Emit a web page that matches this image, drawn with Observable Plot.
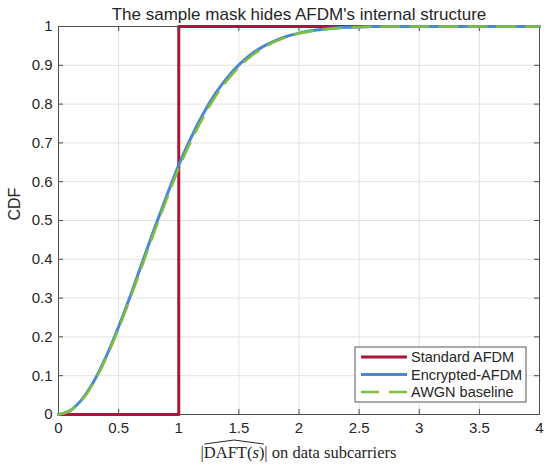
<!DOCTYPE html>
<html><head><meta charset="utf-8">
<script src="https://cdn.jsdelivr.net/npm/d3@7"></script>
<script src="https://cdn.jsdelivr.net/npm/@observablehq/plot@0.6"></script>
<style>body{margin:0;background:#fff}</style>
</head><body><div id="chart"></div>
<script>
const title = "The sample mask hides AFDM's internal structure";
const yLabel = "CDF";
const seriesNames = ["Standard AFDM", "Encrypted-AFDM", "AWGN baseline"];
const seriesColors = ["#A8163A", "#4A88D2", "#80BF3E"];
const xTicks = [0, 0.5, 1, 1.5, 2, 2.5, 3, 3.5, 4];
const yTicks = [0, 0.1, 0.2, 0.3, 0.4, 0.5, 0.6, 0.7, 0.8, 0.9, 1];

// Standard AFDM: unit-modulus step
const standardX = [0, 1, 1, 4];
const standardY = [0, 0, 1, 1];

const curveX = [0, 0.1, 0.2, 0.3, 0.4, 0.5, 0.6, 0.7, 0.8, 0.9, 1.0, 1.1, 1.2, 1.3, 1.4, 1.5, 1.6, 1.7, 1.8, 1.9, 2.0, 2.1, 2.2, 2.3, 2.4, 2.5, 2.6, 2.8, 3.0, 4.0];
const encryptedY = [0, 0.011, 0.041, 0.089, 0.152, 0.226, 0.308, 0.395, 0.481, 0.564, 0.643, 0.712, 0.773, 0.825, 0.867, 0.901, 0.928, 0.948, 0.963, 0.975, 0.983, 0.989, 0.993, 0.996, 0.998, 0.999, 1, 1, 1, 1];
const awgnY = [0, 0.010, 0.039, 0.086, 0.148, 0.221, 0.302, 0.387, 0.473, 0.555, 0.634, 0.703, 0.764, 0.817, 0.860, 0.895, 0.923, 0.944, 0.961, 0.973, 0.982, 0.988, 0.992, 0.995, 0.997, 0.998, 0.999, 1, 1, 1];

const standard = standardX.map((x, i) => ({x, y: standardY[i]}));
const encrypted = curveX.map((x, i) => ({x, y: encryptedY[i]}));
const awgn = curveX.map((x, i) => ({x, y: awgnY[i]}));

const W = 550, H = 471, mL = 58, mR = 11, mT = 26, mB = 57;
const fw = W - mL - mR, fh = H - mT - mB;
const axisColor = "#4d4d4d";
const fmt = d => String(d);

const svg = Plot.plot({
  width: W, height: H,
  marginLeft: mL, marginRight: mR, marginTop: mT, marginBottom: mB,
  style: {fontFamily: "'Liberation Sans', Arial, sans-serif", fontSize: "15px", color: "#262626", background: "#fff"},
  x: {domain: [0, 4], ticks: xTicks, tickFormat: fmt, label: null},
  y: {domain: [0, 1], ticks: yTicks, tickFormat: fmt, label: null},
  marks: [
    Plot.gridX(xTicks, {stroke: "#e2e2e2", strokeOpacity: 1}),
    Plot.gridY(yTicks, {stroke: "#e2e2e2", strokeOpacity: 1}),
    Plot.frame({stroke: axisColor}),
    Plot.tickX(xTicks, {x: d => d, stroke: axisColor, insetTop: fh - 5}),
    Plot.tickX(xTicks, {x: d => d, stroke: axisColor, insetBottom: fh - 5}),
    Plot.tickY(yTicks, {y: d => d, stroke: axisColor, insetRight: fw - 5}),
    Plot.tickY(yTicks, {y: d => d, stroke: axisColor, insetLeft: fw - 5}),
    Plot.line(standard, {x: "x", y: "y", stroke: seriesColors[0], strokeWidth: 3, curve: "linear"}),
    Plot.line(encrypted, {x: "x", y: "y", stroke: seriesColors[1], strokeWidth: 3, curve: "monotone-x"}),
    Plot.line(awgn, {x: "x", y: "y", stroke: seriesColors[2], strokeWidth: 2.5, strokeDasharray: "18,11", curve: "monotone-x"}),
    Plot.axisX({ticks: xTicks, tickSize: 0, tickPadding: 8, tickFormat: fmt, fontSize: 15, fill: "#262626"}),
    Plot.axisY({ticks: yTicks, tickSize: 0, tickPadding: 6, tickFormat: fmt, fontSize: 15, fill: "#262626"}),
    Plot.text([title], {frameAnchor: "top", lineAnchor: "middle", dy: -12, fontSize: 17, fill: "#262626"}),
    Plot.text([yLabel], {frameAnchor: "left", lineAnchor: "middle", rotate: -90, dx: -44, fontSize: 16, fill: "#262626"})
  ]
});
document.getElementById("chart").appendChild(svg);

const s = d3.select(svg);
// x label with wide hat
const xl = s.append("text")
  .attr("x", mL + fw / 2).attr("y", 458)
  .attr("text-anchor", "middle")
  .attr("font-family", "'Liberation Serif', 'Times New Roman', serif")
  .attr("font-size", 16.5).attr("fill", "#262626");
xl.append("tspan").text("|DAFT(");
xl.append("tspan").attr("font-style", "italic").text("s");
xl.append("tspan").text(")| on data subcarriers");
const node = xl.node();
const e1 = node.getExtentOfChar(1), e7 = node.getExtentOfChar(7);
const hx0 = e1.x + 0.5, hx1 = e7.x + e7.width - 0.5;
const capTop = e1.y + e1.height * 0.16;
s.append("path")
  .attr("d", `M${hx0},${capTop - 2} L${(hx0 + hx1) / 2},${capTop - 6} L${hx1},${capTop - 2}`)
  .attr("fill", "none").attr("stroke", "#262626").attr("stroke-width", 1);

// legend
const lg = s.append("g").attr("text-anchor", "start");
const lx = 355, ly = 347, lw = 171, lh = 55;
lg.append("rect").attr("x", lx).attr("y", ly).attr("width", lw).attr("height", lh)
  .attr("fill", "#fff").attr("stroke", "#555").attr("stroke-width", 1);
const rowY = [357, 374.5, 392];
seriesNames.forEach((name, i) => {
  lg.append("line").attr("x1", lx + 6).attr("x2", lx + 52).attr("y1", rowY[i]).attr("y2", rowY[i])
    .attr("stroke", seriesColors[i]).attr("stroke-width", i === 2 ? 2.5 : 3)
    .attr("stroke-dasharray", i === 2 ? "18,10" : null);
  lg.append("text").attr("x", lx + 56).attr("y", rowY[i]).attr("dy", "0.35em")
    .attr("text-anchor", "start")
    .attr("font-family", "'Liberation Sans', Arial, sans-serif").attr("font-size", 14.5)
    .attr("fill", "#262626").text(name);
});
</script>
</body></html>
